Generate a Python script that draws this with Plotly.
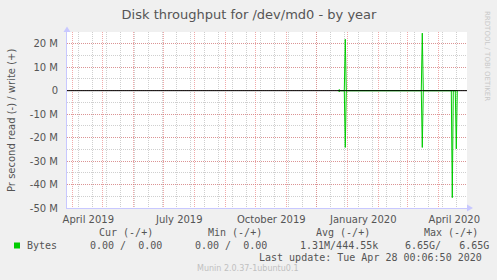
import plotly.graph_objects as go

# ---- data ----
dates = ["2019-12-23", "2019-12-24", "2019-12-25",
         "2019-12-29", "2019-12-30", "2019-12-31",
         "2020-03-15", "2020-03-16", "2020-03-17",
         "2020-04-14", "2020-04-15", "2020-04-16",
         "2020-04-18", "2020-04-19", "2020-04-20"]
write_bytes = [0, 0.5e6, 0, 0, 21.9e6, 0, 0, 24.5e6, 0, 0, 0, 0, 0, 0, 0]
read_bytes = [0, -0.5e6, 0, 0, -24.2e6, 0, 0, -24.2e6, 0, 0, -45.6e6, 0, 0, -24.8e6, 0]

month_ticks = ["2019-04-01", "2019-05-01", "2019-06-01", "2019-07-01", "2019-08-01",
               "2019-09-01", "2019-10-01", "2019-11-01", "2019-12-01", "2020-01-01",
               "2020-02-01", "2020-03-01", "2020-04-01"]
month_labels = ["April 2019", "", "", "July 2019", "", "", "October 2019", "", "",
                "January 2020", "", "", "April 2020"]

y_ticks = [-50e6, -40e6, -30e6, -20e6, -10e6, 0, 10e6, 20e6]
y_labels = ["-50 M", "-40 M", "-30 M", "-20 M", "-10 M", "0", "10 M", "20 M"]

x_range = ["2019-03-26 17:00", "2020-04-29 17:00"]
y_range = [-50e6, 25e6]

legend_headers = ["Cur (-/+)", "Min (-/+)", "Avg (-/+)", "Max (-/+)"]
legend_values = ["0.00 /  0.00", "0.00 /  0.00", "1.31M/444.55k", "6.65G/   6.65G"]
series_name = "Bytes"
last_update = "Last update: Tue Apr 28 00:06:50 2020"
version = "Munin 2.0.37-1ubuntu0.1"

# ---- layout helpers (pixel -> paper) ----
W, H = 497, 280
L, R, T, B = 67, 30, 32, 72
PW, PH = W - L - R, H - T - B

def px(x):
    return (x - L) / PW

def py(y):
    return 1 - (y - T) / PH

GREEN = "#00cc00"
TXT = "#555555"
RED_GRID = "rgba(230,100,100,0.55)"
GRAY_GRID = "#cfcfcf"
AXIS = "#c8c8ff"

fig = go.Figure()
fig.add_trace(go.Scatter(x=dates, y=write_bytes, mode="lines",
                         line=dict(color=GREEN, width=1), showlegend=False))
fig.add_trace(go.Scatter(x=dates, y=read_bytes, mode="lines",
                         line=dict(color=GREEN, width=1), showlegend=False))

fig.update_layout(
    width=W, height=H,
    margin=dict(l=L, r=R, t=T, b=B, pad=0),
    paper_bgcolor="#f0f0f0", plot_bgcolor="#ffffff",
    font=dict(family="DejaVu Sans", size=10, color=TXT),
    showlegend=False,
    title=dict(text="Disk throughput for /dev/md0 - by year", x=249 / W, xanchor="center",
               xref="container", y=1 - 14 / H, yref="container", yanchor="middle",
               font=dict(family="DejaVu Sans", size=13, color=TXT)),
)
fig.update_xaxes(
    type="date", range=x_range,
    tickmode="array", tickvals=month_ticks, ticktext=month_labels,
    ticklabelshift=16, ticklabelstandoff=2,
    ticks="", showgrid=True, gridcolor=RED_GRID, griddash="1px,1px", gridwidth=1,
    minor=dict(tick0="2019-04-07", dtick=14 * 86400000, showgrid=True,
               gridcolor=GRAY_GRID, griddash="1px,1px", gridwidth=1, ticks=""),
    showline=True, linecolor=AXIS, linewidth=1, zeroline=False,
    tickfont=dict(size=10, color=TXT),
)
fig.update_yaxes(
    range=y_range, tickmode="array", tickvals=y_ticks, ticktext=y_labels,
    ticks="", ticklabelstandoff=6,
    showgrid=True, gridcolor=RED_GRID, griddash="1px,1px", gridwidth=1,
    minor=dict(tick0=0, dtick=5e6, showgrid=True, gridcolor=GRAY_GRID,
               griddash="1px,1px", gridwidth=1, ticks=""),
    showline=True, linecolor=AXIS, linewidth=1, zeroline=False,
    tickfont=dict(size=10, color=TXT),
)

# zero line on top
fig.add_shape(type="line", xref="x domain", yref="y", x0=0, x1=1, y0=0, y1=0,
              line=dict(color="#000000", width=1), layer="above")
# axis arrows
fig.add_shape(type="path", xref="paper", yref="paper",
              path=f"M {px(63.5)},{py(32)} L {px(67)},{py(26.5)} L {px(70.5)},{py(32)} Z",
              fillcolor=AXIS, line=dict(width=0), layer="above")
fig.add_shape(type="path", xref="paper", yref="paper",
              path=f"M {px(467)},{py(204.5)} L {px(473)},{py(208)} L {px(467)},{py(211.5)} Z",
              fillcolor=AXIS, line=dict(width=0), layer="above")
# legend square
fig.add_shape(type="rect", xref="paper", yref="paper",
              x0=px(14), x1=px(20), y0=py(248.5), y1=py(242.5),
              fillcolor=GREEN, line=dict(width=0))

ann = []
# y-axis title
ann.append(dict(text="Pr second read (-) / write (+)", x=px(11), y=py(120),
                textangle=-90, font=dict(size=10, color=TXT)))
# rrdtool credit
ann.append(dict(text="RRDTOOL / TOBI OETIKER", x=px(487), y=py(56), textangle=90,
                font=dict(size=7, color="#c8c8c8")))
mono = dict(family="DejaVu Sans Mono", size=10, color=TXT)
header_x = [98.3, 206.7, 315, 422.7]
value_x = [89, 194.3, 299.3, 404.3]
for hx, h in zip(header_x, legend_headers):
    ann.append(dict(text=h.replace(" ", "&nbsp;"), x=px(hx), y=py(232.5), xanchor="left", font=mono))
for vx, v in zip(value_x, legend_values):
    ann.append(dict(text=v.replace(" ", "&nbsp;"), x=px(vx), y=py(245), xanchor="left", font=mono))
ann.append(dict(text=series_name, x=px(26), y=py(245), xanchor="left", font=mono))
ann.append(dict(text=last_update.replace(" ", "&nbsp;"), x=px(482.5), y=py(257), xanchor="right", font=mono))
ann.append(dict(text=version, x=px(248), y=py(268), font=dict(size=8, color="#c0c0c0")))

for a in ann:
    a.setdefault("xanchor", "center")
    a.update(xref="paper", yref="paper", yanchor="middle", showarrow=False, borderpad=0)
fig.update_layout(annotations=ann)

fig.write_html("out.html")
